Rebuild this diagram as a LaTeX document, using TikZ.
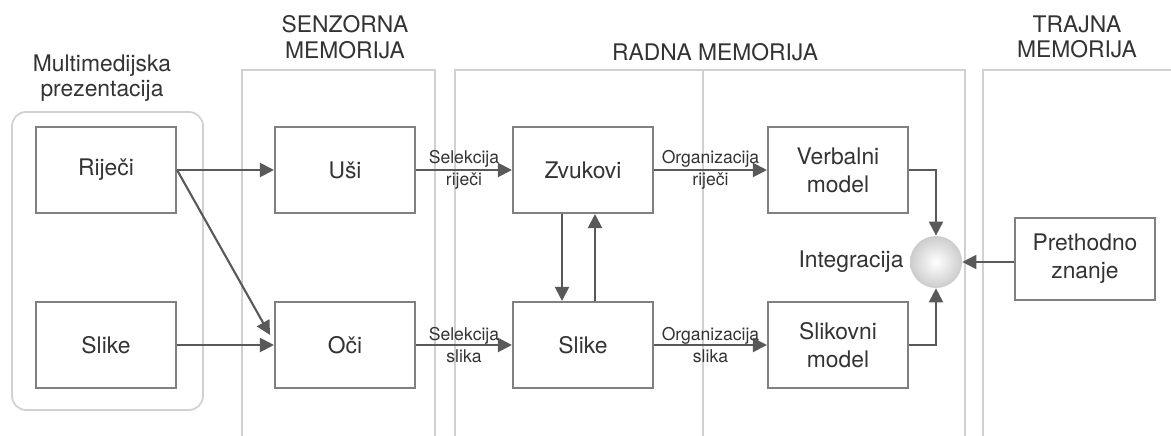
\documentclass[tikz,border=0pt]{standalone}
\usepackage{fontspec}
\setmainfont{TeX Gyre Heros}
\usetikzlibrary{arrows.meta}
\begin{document}
\begin{tikzpicture}[x=0.02cm,y=-0.02cm]
\tikzset{
base/.style={font=\fontsize{13}{16}\selectfont,text=black!80},
blok/.style={base,draw=black!50,line width=1.2pt,minimum width=2.8cm,minimum height=1.72cm,align=center},
stupac/.style={draw=black!18,line width=1pt},
naslov/.style={base,align=center,font=\fontsize{13}{14.5}\selectfont},
oznaka/.style={align=center,text=black!80,font=\fontsize{10}{12.5}\selectfont},
every path/.style={>={Triangle[length=8pt,width=8pt]}},
veza/.style={->,draw=black!65,line width=1.2pt}}
\useasboundingbox (0,0) rectangle (1171,436);
% stupci memorije
\draw[stupac,rounded corners=8pt] (12,112) rectangle (203,410);
\draw[stupac] (242,436) -- (242,70) -- (435,70) -- (435,436);
\draw[stupac] (455,436) -- (455,70) -- (965,70) -- (965,436);
\draw[stupac] (703,70) -- (703,436);
\draw[stupac] (983,436) -- (983,70) -- (1171,70);
\node[naslov] (tMP) at (102,78) {Multimedijska\\prezentacija};
\node[naslov] (tSM) at (345,37) {SENZORNA\\MEMORIJA};
\node[naslov] (tRM) at (715,52) {RADNA MEMORIJA};
\node[naslov] (tTM) at (1077,37) {TRAJNA\\MEMORIJA};
% blokovi
\node[blok] (R) at (106,170) {Riječi};
\node[blok] (S) at (106,345) {Slike};
\node[blok] (U) at (345,170) {Uši};
\node[blok] (O) at (345,345) {Oči};
\node[blok] (Z) at (583,170) {Zvukovi};
\node[blok] (SL) at (583,345) {Slike};
\node[blok] (VM) at (838,170) {Verbalni\\model};
\node[blok] (SM) at (838,345) {Slikovni\\model};
\node[circle,minimum size=1.04cm,inner color=white,outer color=black!20] (I) at (936,262) {};
\node[base,left] (tI) at (I.west) {Integracija};
\node[blok,minimum height=1.64cm] (PZ) at (1085,259) {Prethodno\\znanje};
\coordinate (Ou) at (270,335);
% veze
\draw[veza] (R.east) -- (U.west);
\draw[veza] (R.east) -- (Ou);
\draw[veza] (S.east) -- (O.west);
\draw[veza] (U.east) -- node[oznaka]{Selekcija\\riječi} (Z.west);
\draw[veza] (O.east) -- node[oznaka]{Selekcija\\slika} (SL.west);
\draw[veza] ([xshift=-0.42cm]Z.south) -- ([xshift=-0.42cm]SL.north);
\draw[veza] ([xshift=0.24cm]SL.north) -- ([xshift=0.24cm]Z.south);
\draw[veza] (Z.east) -- node[oznaka]{Organizacija\\riječi} (VM.west);
\draw[veza] (SL.east) -- node[oznaka]{Organizacija\\slika} (SM.west);
\draw[veza] (VM.east) -| (I.north);
\draw[veza] (SM.east) -| (I.south);
\draw[veza] (PZ.west |- I.east) -- (I.east);
\end{tikzpicture}
\end{document}
